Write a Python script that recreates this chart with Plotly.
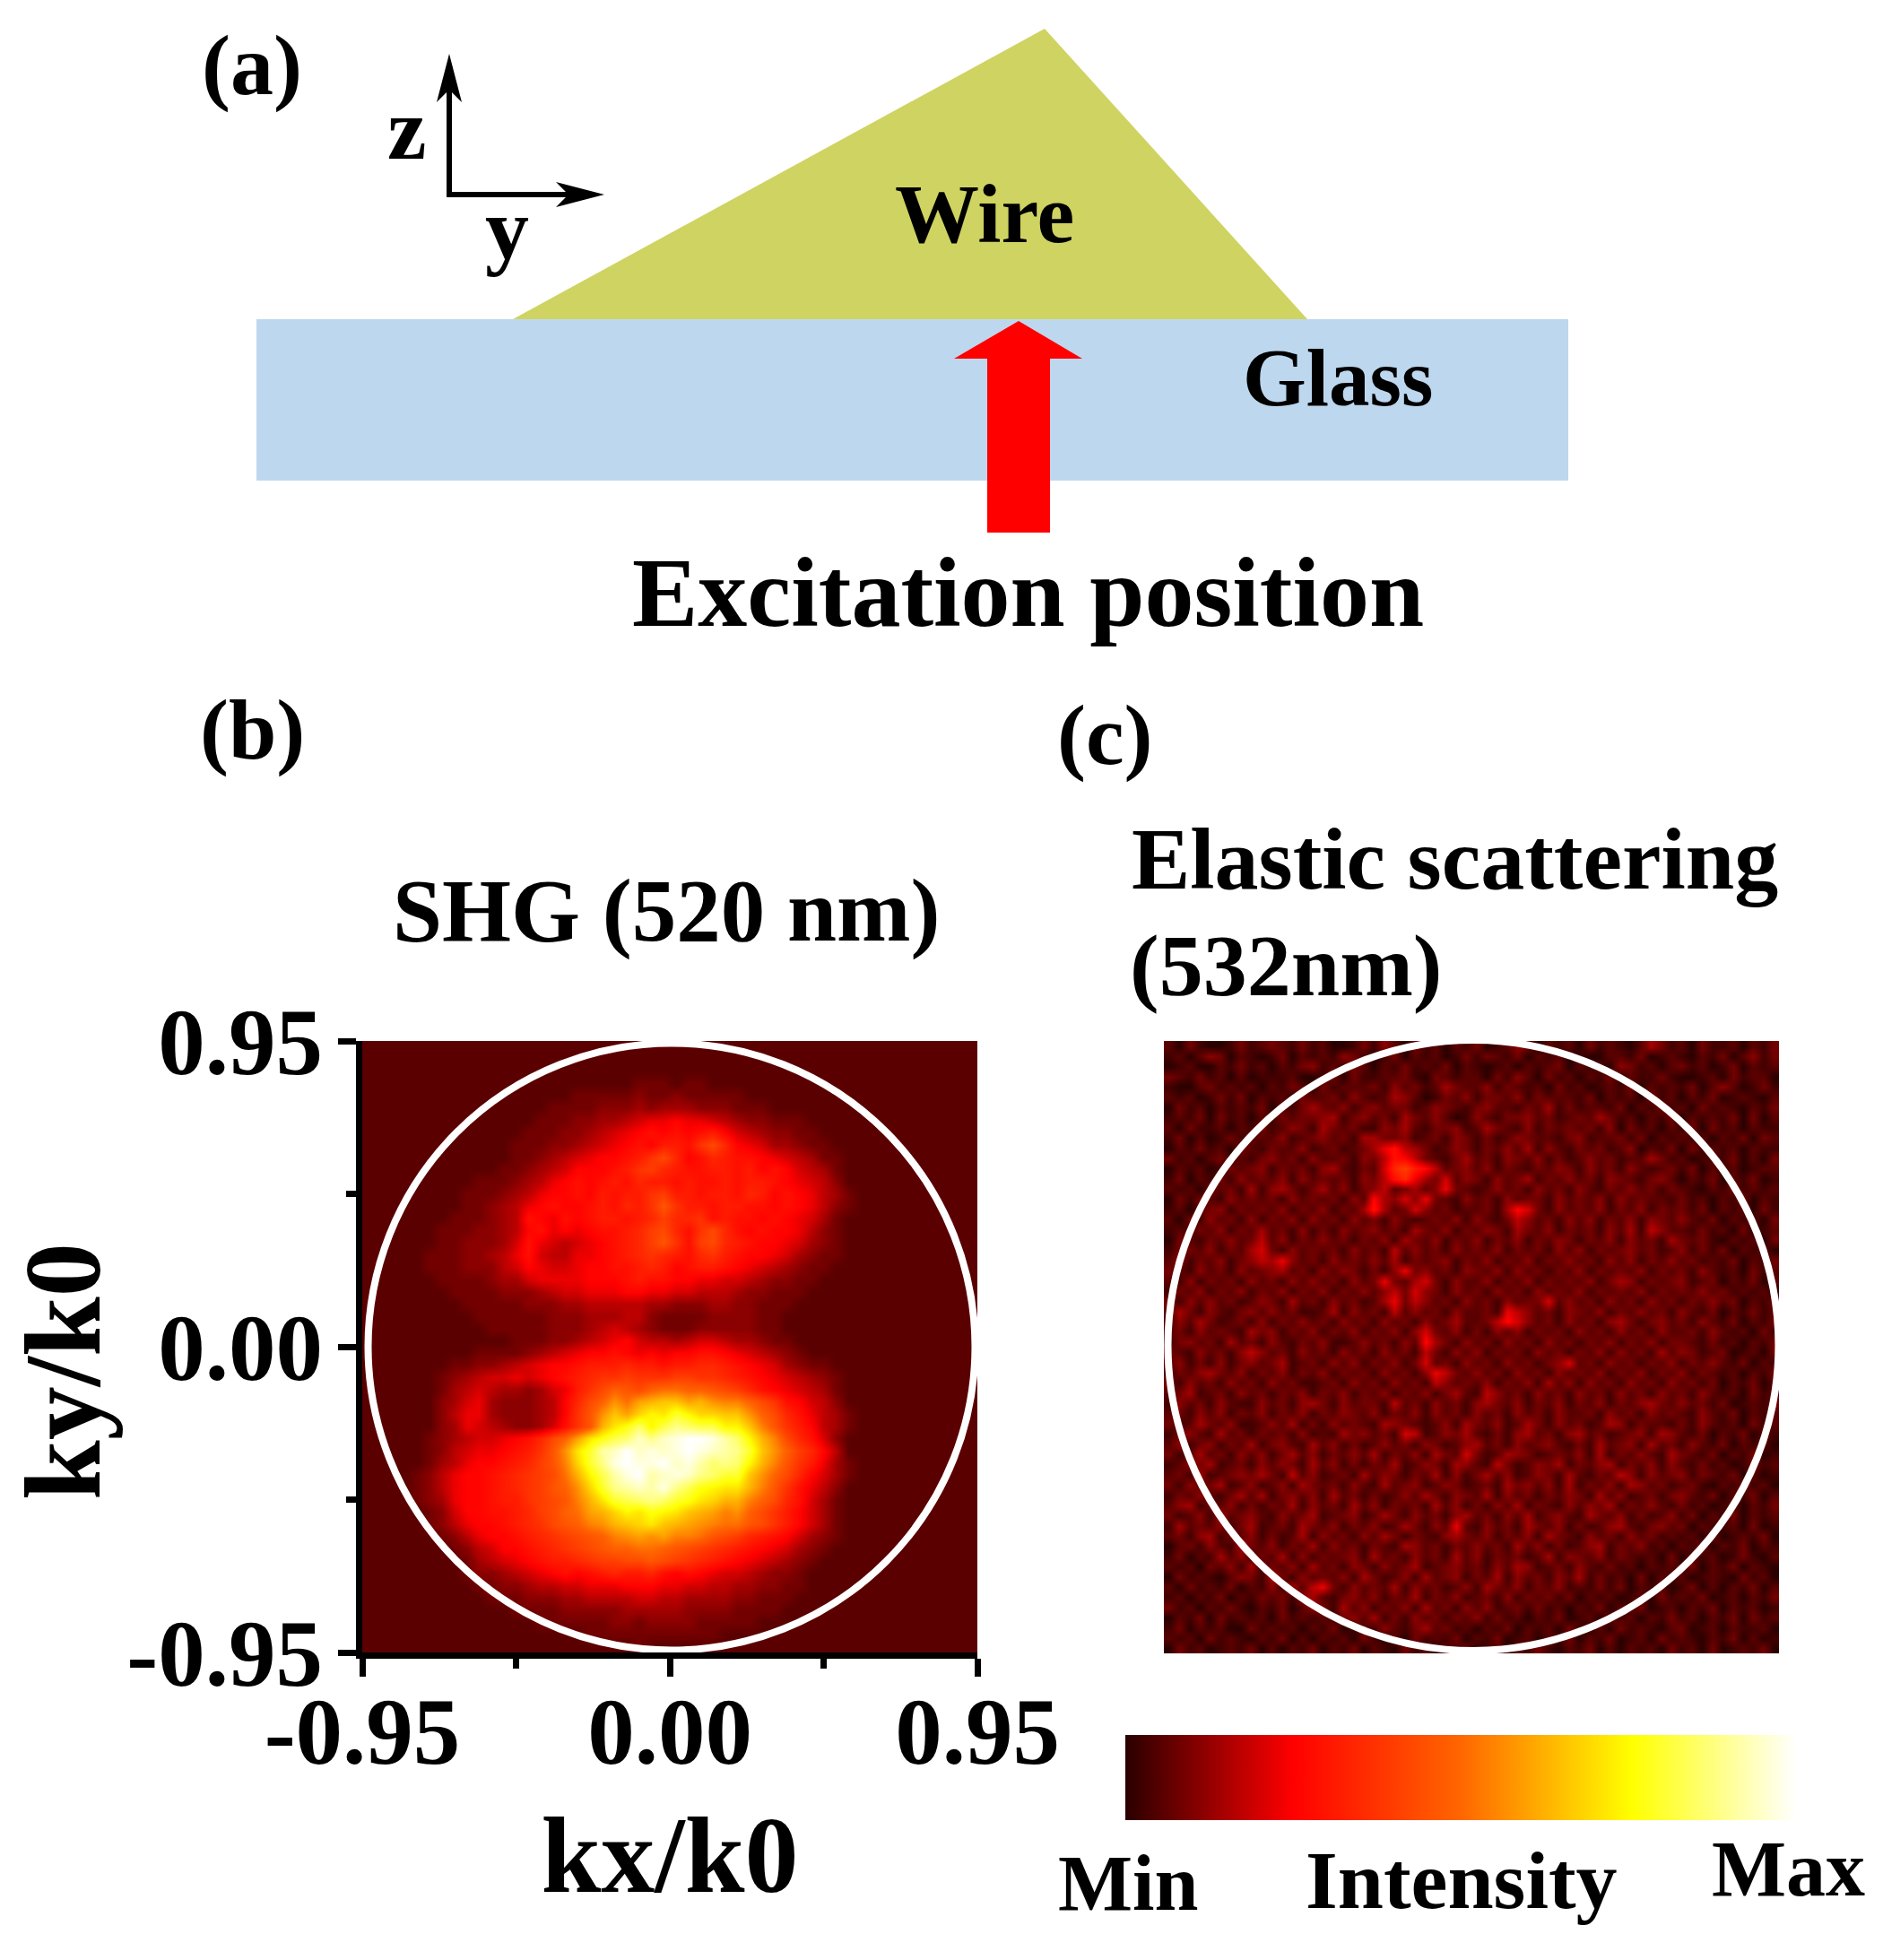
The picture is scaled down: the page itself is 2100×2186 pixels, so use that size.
import plotly.graph_objects as go

W = 2100
H = 2186

# intensity grids, one character per cell (base 36: 0 = min, z = max), top row first
shg_rows = [
    "2222222222 2222222222 2222222222 2222222222 2222222222",
    "2222222222 2222222222 2222222222 2222222222 2222222222",
    "2222222222 2222222222 2222222222 2222222222 2222222222",
    "2222222222 2222222222 2233323322 2222222222 2222222222",
    "2222222222 2222222333 3343343333 3222222222 2222222222",
    "2222222222 2222233334 4454555444 3332222222 2222222222",
    "2222222222 2222333445 5678898876 5443332222 2222222222",
    "2222222222 2223334456 789a9a9ab9 7654433222 2222222222",
    "2222222222 2233344567 89a9bbadfc 9875543322 2222222222",
    "2222222222 2233456789 9abdfc9acb aa98765332 2222222222",
    "2222222222 2334567999 abdecbaabb ab9a976532 2222222222",
    "2222222223 3345689a9a bacbbabaab abba987642 2222222222",
    "2222222233 3456899a9b abbdebbabb acb9a98653 2222222222",
    "2222222233 45689a99ab acbdgdbbab baa9a98643 2222222222",
    "2222222333 456a98a9ab babceccdab aa9a987532 2222222222",
    "2222223334 4569a8989a abcefcadfc a9a9986432 2222222222",
    "2222223344 457a876789 abcegdaefc ba99875432 2222222222",
    "2222233344 568a766889 abcdcbacdb a998754332 2222222222",
    "2222233344 4679877899 aabcb9abba 9876543322 2222222222",
    "2222223333 4557888899 9abaa99887 7654433222 2222222222",
    "2222222333 3444567788 8998877666 5443332222 2222222222",
    "2222222233 3334445566 6665544455 4433322222 2222222222",
    "2222222223 3333344455 5664333344 4433222222 2222222222",
    "2222222222 3333344456 7654333444 4433222222 2222222222",
    "2222222222 2233344567 8976656776 5543322222 2222222222",
    "2222222223 3334567899 a989899aa9 8765432222 2222222222",
    "2222222334 4567899abb bcbbabbccb a987543322 2222222222",
    "2222223456 778789abcd dedddeeddc ba98765432 2222222222",
    "2222223567 6554578bdf hgfhiihhgf eca9876532 2222222222",
    "2222224578 5444569cfh kilmnnlmkj jhfda97642 2222222222",
    "2222224688 5444569dgk nloqpsqoon nkhfca8653 2222222222",
    "2222224587 654457adgm pruqtvuttq qnjgdb9653 2222222222",
    "2222234567 789acfhlpr tuxvxyzzyw uqmjfca742 2222222222",
    "2222234678 89abdgkpsw xzxyxyzyxw vsnkhec962 2222222222",
    "2222235689 9abcegjosv yzyyzxywuv uqmjgdb853 2222222222",
    "2222346899 abcdefimqt wyzwxyxvus snkhfc9753 2222222222",
    "2222346899 abcdeghkos vwxwyvtrqp pmjgda8642 2222222222",
    "2222345899 abbdefgjmp stuvusrpom mjhfca7532 2222222222",
    "2222234799 aabcefhilm oqprqpnmlj khfdb97532 2222222222",
    "2222234689 9abcdfghjk mnopnmlkji igfdb97532 2222222222",
    "2222223468 99abcdefgh jklkljjigf ecba975432 2222222222",
    "2222222346 799abcdefg hhiihgfedc ba98754322 2222222222",
    "2222222235 6789abbcde effgfedcba 9876543222 2222222222",
    "2222222234 456789a9ab cbbca9a987 7654432222 2222222222",
    "2222222223 3445667788 8999887766 5544332222 2222222222",
    "2222222222 3334445566 6677665555 4433322222 2222222222",
    "2222222222 2233334444 4555554444 3333222222 2222222222",
    "2222222222 2222333333 4434444333 3322222222 2222222222",
    "2222222222 2222222233 3333333332 2222222222 2222222222",
    "2222222222 2222222222 2232222222 2222222222 2222222222",
]

elastic_rows = [
    "2031001312 3213120013 1420312021 3012430212 0312102531 2031120213",
    "1202430210 1302121431 0130212013 1321302120 1002213012 1021302413",
    "0120021312 0213412132 0213121302 1012021230 2120431202 3120130212",
    "3213120201 1120013031 1223103212 2031420312 0213021131 0012031220",
    "1002312120 2132031222 3142312532 2413212031 2012130212 1302420131",
    "2120131302 1203223142 1254201324 1332413222 1302120312 0213012102",
    "0312021213 0213532413 4233124321 3422132513 1221302131 2031210213",
    "1213031202 1323345134 2315324201 4213342312 3253120213 0212130302",
    "2031120213 1243153231 1435213341 2532141323 2314031202 1303120211",
    "1302013122 2412342315 5334123143 1312432213 4122313021 2120213032",
    "0213120321 3224123123 58a6531243 1324251421 3231240213 0312120211",
    "3120231213 4231422314 36a9632135 2314324131 2423122531 2012130203",
    "0212013234 1323145213 27ceb96234 2413213243 1423142123 1302120122",
    "1302131423 2414232314 36ac853724 3142351324 2314321342 0213021301",
    "2120323151 4531352413 4623524832 1242314231 4213242313 2102131212",
    "0313214232 3142323142 9547483214 2314233142 3241423221 3120213021",
    "1202341323 2413241325 a523742312 2315973142 3241324132 3130212031",
    "2031423141 3241423142 3142123241 4213642314 2413241432 4213021203",
    "1213241325 2314131423 4231532413 2431532413 2314251642 2131203012",
    "0321324236 2413242313 2415324132 4132413243 1324142315 3231021203",
    "1332413257 3142323142 3162423142 3241323142 4132342312 4131302120",
    "2413241346 5842314232 4251323413 2413241324 2314241324 2312130213",
    "3214231423 4523142431 3148342314 3241423132 4132324132 3142120312",
    "2141323142 3142423142 3832573142 2413241323 2413541323 4123021302",
    "1324132413 2413241324 2463743142 3142314232 4132324132 3242312120",
    "3142423124 3152314231 2583642314 2314233724 2314231423 1324230213",
    "2531421342 4231125142 3162423142 2318642314 3241324231 4213021312",
    "1425312314 1324231423 1423142352 2369742314 2314531342 3142130213",
    "2314232153 4132413241 3241473241 3142413231 4231423142 2314212031",
    "1342315231 4213241124 2314295314 2314231423 1324132413 3213120213",
    "3214231464 2314231423 1423163142 4132314231 3241423152 4312301203",
    "2413141342 3512314241 3241372314 2314231347 2314231324 1324213021",
    "1324532413 2413241323 1423148632 4231423142 3241324132 4132120213",
    "3142314231 4231123142 3142316423 2413241524 1423142314 2313021302",
    "2351231423 1324132413 2413241352 1642314231 4231423142 3142120312",
    "1423142114 2314531423 3162314231 4532413241 3241324532 4231301213",
    "2314241324 1324132432 4132414231 4231423142 2314231423 2142130212",
    "3125324112 4251314232 1543212415 3241253142 3125413221 3142120312",
    "1342152313 2314121534 2317612435 2131452314 5231234154 2130213021",
    "2413413251 3421524131 2423143124 5231423421 3152341523 1421302120",
    "3125231424 1352413242 5132415327 3125431232 4151324215 3213021301",
    "1243512314 2431524131 3251243154 2163124351 3245132414 2131201312",
    "2315123435 3162412315 2431325141 3524124315 2132641423 4132130201",
    "3142351241 2415323142 1523412431 2315342415 1324154231 2310213120",
    "1324213525 1342415231 3124253143 2514231324 3152412313 4213021302",
    "2451324131 3251423152 4132315241 3142513214 2435132421 3120120213",
    "3124152342 1423512341 2531423145 2314251342 1532413124 1302130212",
    "1523241351 2315324132 4125314282 1423153241 3124521342 3021120301",
    "2314513241 3125142314 2531321453 2413241532 1423142312 1203012130",
    "0231421532 4132514231 3215423132 4231524131 2451324120 2130213021",
    "1302152413 2514132341 5231423152 4132312514 3241321203 0212013102",
    "2120324151 3241523143 1423512342 3142541231 4213120212 1302130210",
    "0312102431 5314232415 3124152341 3251423142 5131203021 2012103120",
    "2031213021 4152683142 3251423124 1532413241 2131302120 1302021302",
    "1202130213 2314521342 4132513241 2314132313 0212012031 2130120213",
    "3120213102 1302431524 1324152314 2412313120 2130213012 0213021201",
    "0213031212 0312121342 5131423132 4131202130 1203120213 1202130312",
    "1302120031 2120213012 1421352312 0213021203 1020312102 3012021120",
    "2120312102 1302021203 1020312130 2130120213 0213012031 2102130201",
    "0312012130 2021302130 2103120213 0120213102 1302021203 1203012130",
]

tick_vals = [-0.95, 0.0, 0.95]
tick_text = ["-0.95", "0.00", "0.95"]
minor_vals = [-0.475, 0.475]

hot_stops = [
    [0.0, "#2a0000"],
    [0.25, "#ff0000"],
    [0.5, "#ff6600"],
    [0.755, "#ffff00"],
    [1.0, "#ffffff"],
]

labels = [
    ("(a)", 281, 72, 96),
    ("z", 454, 144, 98),
    ("y", 565, 255, 98),
    ("Wire", 1098, 238, 94),
    ("Glass", 1492, 422, 91),
    ("Excitation position", 1146, 661, 110),
    ("(b)", 281, 813, 96),
    ("(c)", 1232, 820, 96),
    ("SHG (520 nm)", 743, 1016, 99),
    ("Elastic scattering", 1622, 958, 98),
    ("(532nm)", 1434, 1077, 98),
    ("Min", 1258, 2100, 88),
    ("Intensity", 1630, 2097, 92),
    ("Max", 1994, 2084, 88),
]

FONT = "Liberation Serif"


def px(x):
    return x / W


def py(y):
    return 1 - y / H


def poly(points):
    parts = [f"{px(x):.5f},{py(y):.5f}" for x, y in points]
    return "M" + " L".join(parts) + " Z"


def grid(rows):
    out = []
    for row in rows:
        out.append([int(c, 36) / 35 for c in row.replace(" ", "")])
    return out


def coords(n):
    step = 1.9 / n
    return [round(-0.95 + step * (i + 0.5), 4) for i in range(n)]


shg = grid(shg_rows)
elastic = grid(elastic_rows)

fig = go.Figure()
fig.add_trace(go.Heatmap(z=shg, x=coords(len(shg[0])), y=coords(len(shg))[::-1],
                         coloraxis="coloraxis", zsmooth="best", hoverinfo="skip"))
fig.add_trace(go.Heatmap(z=elastic, x=coords(len(elastic[0])), y=coords(len(elastic))[::-1],
                         xaxis="x2", yaxis="y2", coloraxis="coloraxis", zsmooth="best",
                         hoverinfo="skip"))

shapes = [
    dict(type="path", path=poly([(286, 356), (1749, 356), (1749, 536), (286, 536)]),
         xref="paper", yref="paper", fillcolor="#bdd7ee", line_width=0),
    dict(type="path", path=poly([(572, 356), (1165, 32), (1458, 356)]),
         xref="paper", yref="paper", fillcolor="#cfd361", line_width=0),
    dict(type="path", path=poly([(1136, 358), (1207, 400), (1171, 400), (1171, 594),
                                 (1101, 594), (1101, 400), (1064, 400)]),
         xref="paper", yref="paper", fillcolor="#ff0000", line_width=0),
    # z / y arrows
    dict(type="line", x0=px(501), y0=py(217), x1=px(501), y1=py(90),
         xref="paper", yref="paper", line=dict(color="black", width=6)),
    dict(type="line", x0=px(498), y0=py(217), x1=px(640), y1=py(217),
         xref="paper", yref="paper", line=dict(color="black", width=6)),
    dict(type="path", path=poly([(501, 60), (515, 114), (501, 100), (487, 114)]),
         xref="paper", yref="paper", fillcolor="black", line_width=0),
    dict(type="path", path=poly([(674, 217), (620, 203), (634, 217), (620, 231)]),
         xref="paper", yref="paper", fillcolor="black", line_width=0),
    # white circles over both maps
    dict(type="circle", xref="x", yref="y", x0=-0.932, x1=0.943, y0=-0.943, y1=0.943,
         line=dict(color="white", width=8), layer="above"),
    dict(type="circle", xref="x2", yref="y2", x0=-0.9375, x1=0.9485, y0=-0.9415, y1=0.9525,
         line=dict(color="white", width=8), layer="above"),
]

annotations = []
for text, x, y, size in labels:
    annotations.append(dict(text=text, x=px(x), y=py(y), xref="paper", yref="paper",
                            showarrow=False, xanchor="center", yanchor="middle",
                            font=dict(family=FONT, size=size, color="black", weight=700)))

axis_font = dict(family=FONT, size=105, color="black", weight=700)
title_font = dict(family=FONT, size=120, color="black", weight=700)

# ky/k0 sits lower than the axis centre, so it is placed by hand
annotations.append(dict(text="ky/k0", x=px(70), y=py(1530), xref="paper", yref="paper",
                        showarrow=False, xanchor="center", yanchor="middle", textangle=-90,
                        font=title_font))

left_axis = dict(range=[-0.95, 0.95], tickmode="array", tickvals=tick_vals, ticktext=tick_text,
                 tickfont=axis_font, ticks="outside", ticklen=20, tickwidth=7, tickcolor="black",
                 showline=True, linewidth=7, linecolor="black", showgrid=False, zeroline=False,
                 minor=dict(tickmode="array", tickvals=minor_vals, ticks="outside", ticklen=11,
                            tickwidth=7, tickcolor="black", showgrid=False))

fig.update_layout(
    width=W,
    height=H,
    margin=dict(l=0, r=0, t=0, b=0, autoexpand=False),
    paper_bgcolor="white",
    plot_bgcolor="white",
    showlegend=False,
    font=dict(family=FONT),
    coloraxis=dict(
        cmin=0, cmax=1, colorscale=hot_stops,
        colorbar=dict(orientation="h", x=px(1255), xanchor="left", y=py(1935), yanchor="top",
                      lenmode="pixels", len=748, thickness=95, xpad=0, ypad=0,
                      outlinewidth=0, showticklabels=False, ticks=""),
    ),
    xaxis=dict(domain=[px(404), px(1090)], anchor="y", ticklabelstandoff=-29,
               title=dict(text="kx/k0", font=title_font, standoff=39), **left_axis),
    yaxis=dict(domain=[py(1843), py(1161)], anchor="x", ticklabelstandoff=-4, **left_axis),
    xaxis2=dict(domain=[px(1298), px(1984)], anchor="y2", range=[-0.95, 0.95], visible=False),
    yaxis2=dict(domain=[py(1844), py(1161)], anchor="x2", range=[-0.95, 0.95], visible=False),
    shapes=shapes,
    annotations=annotations,
)

fig.write_html("out.html", config=dict(displayModeBar=False),
               post_script="document.body.style.margin = '0';")
